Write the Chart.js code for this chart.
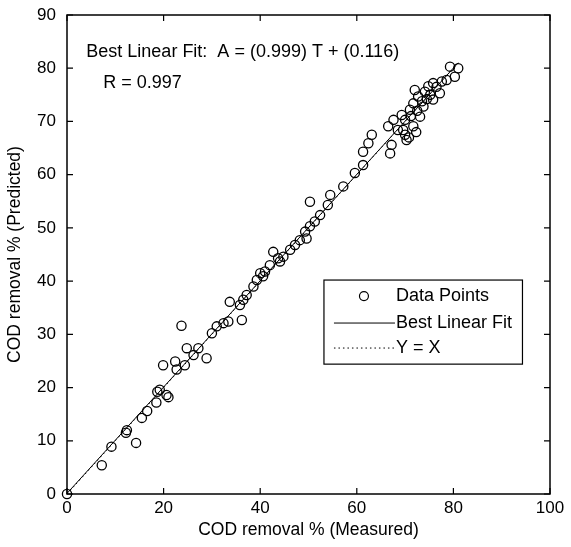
<!DOCTYPE html>
<html lang="en">
<head>
  <meta charset="UTF-8">
  <title>COD removal - regression</title>
  <script src="https://cdn.jsdelivr.net/npm/chart.js"></script>
  <style>
    html, body { margin: 0; padding: 0; background: #fff; }
    #wrap { width: 571px; height: 547px; }
  </style>
</head>
<body>
  <div id="wrap"><canvas id="grafico"></canvas></div>
<script>
// valores
const medido = [0, 7.2, 9.2, 12.4, 12.2, 14.3, 15.5, 16.6, 18.5, 18.7, 19.2, 20.6, 21.0, 19.9, 22.4, 22.7,
  23.7, 24.4, 24.8, 26.2, 27.2, 28.9, 30.0, 31.0, 32.4, 33.4, 33.7, 35.8, 36.2, 37.2, 36.5, 38.6, 39.3,
  40.0, 41.0, 40.6, 42.0, 42.7, 43.7, 44.8, 44.1, 46.2, 47.2, 48.2, 49.6, 49.3, 50.3, 50.3, 51.3, 52.4,
  54.0, 54.5, 57.2, 59.6, 61.3, 61.3, 62.4, 63.1, 66.9, 66.5, 67.2, 67.6, 68.5, 69.3, 70.0, 70.3, 69.6,
  70.0, 71.0, 71.7, 71.7, 72.7, 72.0, 73.1, 73.8, 74.1, 74.8, 75.8, 75.8, 77.2, 77.6, 78.6, 79.3, 80.3,
  81.0, 72.5, 73.5, 74.5, 71.2, 75.2, 76.5, 72.3, 70.8];
const previsto = [0, 5.4, 8.9, 12.0, 11.5, 9.6, 14.3, 15.6, 17.2, 19.2, 19.6, 18.6, 18.2, 24.2, 24.9, 23.4,
  31.6, 24.2, 27.4, 26.1, 27.4, 25.5, 30.2, 31.5, 32.1, 32.4, 36.1, 35.5, 32.7, 37.4, 36.5, 39.0, 40.2,
  41.5, 41.8, 40.9, 43.0, 45.5, 44.3, 44.6, 43.7, 45.9, 46.8, 47.7, 48.0, 49.3, 50.3, 54.9, 51.2, 52.4,
  54.3, 56.2, 57.8, 60.3, 61.8, 64.3, 65.9, 67.5, 64.0, 69.1, 65.6, 70.3, 68.4, 71.2, 67.5, 66.5, 68.4,
  70.3, 72.2, 69.1, 73.4, 74.7, 75.9, 70.9, 72.8, 75.6, 76.6, 77.2, 74.1, 75.3, 77.5, 77.8, 80.3, 78.4,
  80.0, 72.0, 73.8, 74.2, 71.0, 75.0, 76.5, 68.0, 67.0];

const ajusteX = [0, 81];
const ajusteY = [0.116, 81.03];
const identX = [0, 81];
const identY = [0, 81];

const ticksX = [0, 20, 40, 60, 80, 100];
const ticksY = [0, 10, 20, 30, 40, 50, 60, 70, 80, 90];

const textoFit = 'Best Linear Fit:  A = (0.999) T + (0.116)';
const textoR = 'R = 0.997';
const legendaNomes = ['Data Points', 'Best Linear Fit', 'Y = X'];

const fonte = '"Liberation Sans", Arial, sans-serif';

function pontos(xs, ys) {
  return xs.map((x, i) => ({ x: x, y: ys[i] }));
}

// moldura com ticks para dentro, textos e legenda
const molduraPlugin = {
  id: 'moldura',
  afterDraw(chart) {
    const ctx = chart.ctx;
    const a = chart.chartArea;
    const sx = chart.scales.x, sy = chart.scales.y;
    ctx.save();
    ctx.strokeStyle = '#000';
    ctx.lineWidth = 1.5;
    ctx.strokeRect(a.left, a.top, a.right - a.left, a.bottom - a.top);
    ctx.lineWidth = 1.2;
    const t = 6;
    ctx.beginPath();
    ticksX.forEach(v => {
      const px = sx.getPixelForValue(v);
      ctx.moveTo(px, a.bottom); ctx.lineTo(px, a.bottom - t);
      ctx.moveTo(px, a.top); ctx.lineTo(px, a.top + t);
    });
    ticksY.forEach(v => {
      const py = sy.getPixelForValue(v);
      ctx.moveTo(a.left, py); ctx.lineTo(a.left + t, py);
      ctx.moveTo(a.right, py); ctx.lineTo(a.right - t, py);
    });
    ctx.stroke();

    // textos da regressao
    ctx.fillStyle = '#000';
    ctx.font = '18px ' + fonte;
    ctx.textBaseline = 'middle';
    ctx.textAlign = 'left';
    ctx.fillText(textoFit, sx.getPixelForValue(4), sy.getPixelForValue(83.1));
    ctx.fillText(textoR, sx.getPixelForValue(7.5), sy.getPixelForValue(77.2));

    // legenda
    const lx = sx.getPixelForValue(53.2), ly = sy.getPixelForValue(40.2);
    const lw = sx.getPixelForValue(94.3) - lx, lh = sy.getPixelForValue(24.4) - ly;
    ctx.fillStyle = '#fff';
    ctx.fillRect(lx, ly, lw, lh);
    ctx.lineWidth = 1.2;
    ctx.strokeRect(lx, ly, lw, lh);
    const linhaX0 = lx + 10, linhaX1 = lx + 71, textoX = lx + 72;
    const row = [ly + 16, ly + 43, ly + 68];
    ctx.fillStyle = '#000';
    ctx.fillText(legendaNomes[0], textoX, row[0]);
    ctx.fillText(legendaNomes[1], textoX, row[1]);
    ctx.fillText(legendaNomes[2], textoX, row[2]);
    ctx.beginPath();
    ctx.arc(lx + 40, row[0], 4.5, 0, Math.PI * 2);
    ctx.stroke();
    ctx.lineWidth = 1;
    ctx.beginPath();
    ctx.moveTo(linhaX0, row[1]); ctx.lineTo(linhaX1, row[1]);
    ctx.stroke();
    ctx.setLineDash([1.5, 3]);
    ctx.beginPath();
    ctx.moveTo(linhaX0, row[2]); ctx.lineTo(linhaX1, row[2]);
    ctx.stroke();
    ctx.restore();
  }
};

const grafico = new Chart(document.getElementById('grafico').getContext('2d'), {
  type: 'scatter',
  data: {
    datasets: [{
      label: legendaNomes[0],
      data: pontos(medido, previsto),
      pointStyle: 'circle',
      pointRadius: 4.6,
      pointBorderWidth: 1.3,
      pointBorderColor: '#000',
      pointBackgroundColor: 'rgba(0,0,0,0)',
      showLine: false,
      order: 1
    }, {
      label: legendaNomes[1],
      data: pontos(ajusteX, ajusteY),
      showLine: true,
      borderColor: '#000',
      borderWidth: 1,
      pointRadius: 0,
      order: 2
    }, {
      label: legendaNomes[2],
      data: pontos(identX, identY),
      showLine: true,
      borderColor: '#000',
      borderWidth: 1,
      borderDash: [1.5, 3],
      pointRadius: 0,
      order: 3
    }]
  },
  options: {
    responsive: true,
    maintainAspectRatio: false,
    animation: false,
    clip: false,
    layout: { padding: { top: 15, right: 21, left: 0, bottom: 0 } },
    plugins: {
      legend: { display: false },
      tooltip: { enabled: false }
    },
    scales: {
      x: {
        type: 'linear',
        min: 0, max: 100,
        afterBuildTicks: s => { s.ticks = ticksX.map(v => ({ value: v })); },
        afterFit: s => { s.height = 53; s.paddingLeft = 0; s.paddingRight = 0; },
        grid: { display: false, drawTicks: false },
        border: { display: false },
        ticks: { color: '#000', padding: 4, font: { family: fonte, size: 17 } },
        title: { display: true, text: 'COD removal % (Measured)', color: '#000',
          font: { family: fonte, size: 17.5 }, padding: { top: 0, bottom: 6 } }
      },
      y: {
        type: 'linear',
        min: 0, max: 90,
        afterBuildTicks: s => { s.ticks = ticksY.map(v => ({ value: v })); },
        afterFit: s => { s.width = 67; s.paddingTop = 0; s.paddingBottom = 0; },
        grid: { display: false, drawTicks: false },
        border: { display: false },
        ticks: { color: '#000', padding: 11, font: { family: fonte, size: 17 } },
        title: { display: true, text: 'COD removal % (Predicted)', color: '#000',
          font: { family: fonte, size: 17.5 }, padding: { top: 5, bottom: 0 } }
      }
    }
  },
  plugins: [molduraPlugin]
});
</script>
</body>
</html>
